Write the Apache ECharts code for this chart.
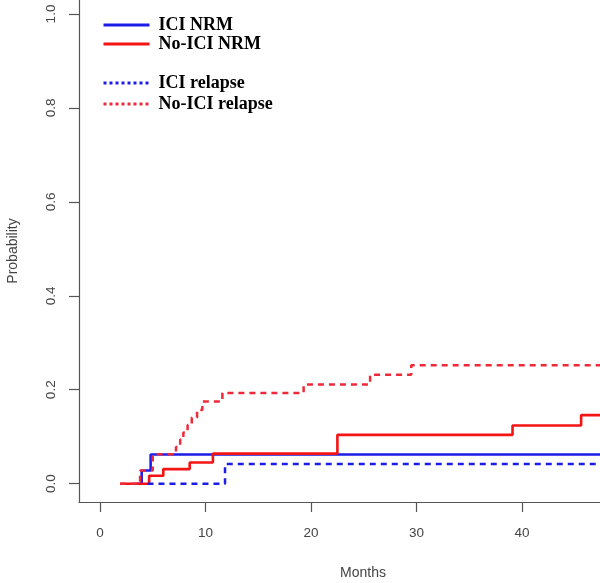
<!DOCTYPE html>
<html>
<head>
<meta charset="utf-8">
<script src="https://cdn.jsdelivr.net/npm/echarts@6/dist/echarts.min.js"></script>
<style>html,body{margin:0;padding:0;background:#fff}#c{width:600px;height:583px}</style>
</head>
<body>
<div id="c"></div>
<script>
// Cumulative incidence curves (months vs probability)
const iciNrmTime   = [3.5, 3.95, 4.8, 52];
const iciNrmProb   = [0, 0.028, 0.062, 0.062];

const noIciNrmTime = [1.9, 4.66, 6.0, 8.5, 10.7, 22.5, 39.1, 45.6, 52];
const noIciNrmProb = [0, 0.017, 0.031, 0.045, 0.064, 0.104, 0.124, 0.146, 0.146];

const iciRelTime   = [4.5, 11.85, 52];
const iciRelProb   = [0, 0.042, 0.042];

const noIciRelTime = [1.9, 3.8, 5.0, 7.2, 7.6, 7.9, 8.3, 8.7, 9.2, 9.7, 11.6, 19.3, 25.6, 29.5, 52];
const noIciRelProb = [0, 0.028, 0.0625, 0.078, 0.094, 0.109, 0.125, 0.141, 0.157, 0.175, 0.193, 0.211, 0.232, 0.252, 0.252];

const seriesNames = ['ICI NRM', 'No-ICI NRM', 'ICI relapse', 'No-ICI relapse'];
const xTicks = [0, 10, 20, 30, 40];
const yTicks = [0, 0.2, 0.4, 0.6, 0.8, 1.0];

const BLUE = '#1c1ce8';
const RED = '#f41414';
const RED_DOT = '#ee2a3a';
const AXIS = '#555555';
const LABEL = '#444444';
const FONT = 'Liberation Sans, Arial, sans-serif';
const SERIF = 'Liberation Serif, Times New Roman, serif';

function pairs(t, p) { return t.map((v, i) => [v, p[i]]); }

const chart = echarts.init(document.getElementById('c'), null, { renderer: 'canvas' });

function mk(name, t, p, color, dashed) {
  return {
    name: name,
    type: 'line',
    step: 'end',
    symbol: 'none',
    showSymbol: false,
    data: pairs(t, p),
    lineStyle: { color: color, width: dashed ? 2.5 : 2.6, type: dashed ? [6, 5] : 'solid', cap: 'butt' },
    itemStyle: { color: color },
    animation: false,
    clip: true
  };
}

const legendText = { fontFamily: SERIF, fontWeight: 'bold', fontSize: 18, color: '#000', padding: [0, 0, 0, 4] };

chart.setOption({
  animation: false,
  backgroundColor: '#ffffff',
  grid: { left: 79, right: 0, top: 0, bottom: 81, containLabel: false, outerBoundsMode: 'none' },
  xAxis: {
    type: 'value',
    min: -1.99,
    max: 47.39,
    axisLine: { show: true, onZero: false, lineStyle: { color: AXIS, width: 1.2 } },
    axisTick: { show: true, length: 10, customValues: xTicks, lineStyle: { color: AXIS, width: 1.2 } },
    axisLabel: { customValues: xTicks, margin: 24, color: LABEL, fontSize: 13.5, fontFamily: FONT },
    splitLine: { show: false }
  },
  yAxis: {
    type: 'value',
    min: -0.039,
    max: 1.0298,
    name: 'Probability',
    nameLocation: 'middle',
    nameGap: 59,
    nameTextStyle: { color: LABEL, fontSize: 14, fontFamily: FONT },
    axisLine: { show: true, onZero: false, lineStyle: { color: AXIS, width: 1.2 } },
    axisTick: { show: true, length: 10, customValues: yTicks, lineStyle: { color: AXIS, width: 1.2 } },
    axisLabel: { customValues: yTicks, rotate: 90, margin: 21, color: LABEL, fontSize: 13.5, fontFamily: FONT,
      formatter: v => v.toFixed(1) },
    splitLine: { show: false }
  },
  legend: [
    {
      id: 'lg1',
      data: [seriesNames[0], seriesNames[1]],
      orient: 'vertical', left: 102, top: 16, padding: 0, itemGap: 1,
      itemWidth: 46, itemHeight: 14,
      itemStyle: { opacity: 0 },
      lineStyle: { width: 3 },
      textStyle: legendText
    },
    {
      id: 'lg2',
      data: [seriesNames[2], seriesNames[3]],
      orient: 'vertical', left: 102, top: 74, padding: 0, itemGap: 3,
      itemWidth: 46, itemHeight: 14,
      itemStyle: { opacity: 0 },
      lineStyle: { width: 3, type: [3, 3] },
      textStyle: legendText
    }
  ],
  graphic: [
    { type: 'text', x: 363, y: 573, silent: true,
      style: { text: 'Months', align: 'center', verticalAlign: 'middle', fontSize: 14, fontFamily: FONT, fill: LABEL } }
  ],
  series: [
    mk(seriesNames[0], iciNrmTime, iciNrmProb, BLUE, false),
    mk(seriesNames[1], noIciNrmTime, noIciNrmProb, RED, false),
    mk(seriesNames[2], iciRelTime, iciRelProb, BLUE, true),
    mk(seriesNames[3], noIciRelTime, noIciRelProb, RED_DOT, true)
  ]
});
</script>
</body>
</html>
